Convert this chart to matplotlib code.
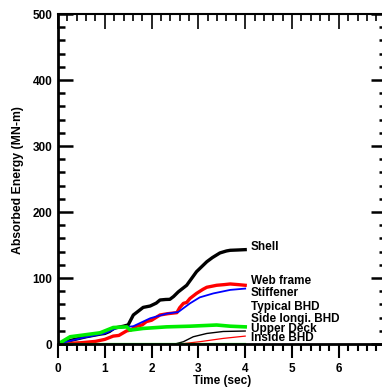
import numpy as np
import matplotlib.pyplot as plt
from matplotlib.ticker import MultipleLocator

plt.rcParams['font.family'] = ['Liberation Sans', 'DejaVu Sans']
plt.rcParams['font.weight'] = 'bold'

# curves (time in sec, energy in MN-m)
shell_t = [0, 0.3, 0.6, 0.9, 1.0, 1.1, 1.2, 1.4, 1.5, 1.61, 1.72, 1.82, 1.97, 2.1, 2.18, 2.3, 2.39, 2.47, 2.57, 2.75, 2.96, 3.18, 3.3, 3.46, 3.6, 3.68, 3.85, 4.0]
shell_e = [0, 6, 11, 15, 16, 19, 24, 27, 29, 44, 50, 55.5, 57.6, 62, 66.7, 67.5, 67.7, 72, 79, 89, 109.6, 124.7, 131, 138, 141, 142, 142.5, 143]

web_t = [0, 0.5, 0.8, 1.0, 1.18, 1.3, 1.47, 1.55, 1.68, 1.8, 1.89, 2.0, 2.18, 2.35, 2.54, 2.6, 2.68, 2.75, 2.82, 2.96, 3.1, 3.18, 3.39, 3.55, 3.68, 3.85, 4.0]
web_e = [0, 2, 4, 7, 12, 13, 20, 21, 27, 29, 34, 36, 44, 46, 47.5, 55, 61.6, 63, 69, 76.7, 83, 86, 89, 90, 91, 90, 89]

stiff_t = [0, 0.5, 1.0, 1.25, 1.61, 1.97, 2.32, 2.57, 2.82, 3.03, 3.32, 3.68, 4.0]
stiff_e = [0, 9, 16, 24, 27, 39, 46, 48.5, 61.6, 70.7, 76.7, 82, 84]

typ_t = [0, 0.26, 0.54, 0.9, 1.18, 1.47, 1.54, 1.82, 2.32, 2.82, 3.39, 3.68, 4.0]
typ_e = [0, 11, 13.6, 17, 25, 26, 21, 23.6, 26, 27, 28.8, 27, 26]

side_t = [0, 2.5, 2.68, 2.89, 3.18, 3.53, 4.0]
side_e = [0, 0, 3.5, 11, 16, 19, 19.7]

inside_t = [0, 2.6, 3.03, 3.53, 4.0]
inside_e = [0, 0, 3.5, 8.5, 12]

deck_t = [0, 4.0]
deck_e = [0, 0]

labels = ['Shell', 'Web frame', 'Stiffener', 'Typical BHD', 'Side longi. BHD', 'Upper Deck', 'Inside BHD']
label_y = [147, 96, 78, 56, 38, 23, 9]

fig = plt.figure(figsize=(3.82, 3.92), dpi=100)
ax = fig.add_axes([0.1518, 0.1224, 0.8576, 0.8418])

ax.plot(shell_t, shell_e, color='black', lw=2.4)
ax.plot(web_t, web_e, color='red', lw=2.4)
ax.plot(stiff_t, stiff_e, color='blue', lw=1.3)
ax.plot(typ_t, typ_e, color='#00ee00', lw=2.6)
ax.plot(side_t, side_e, color='black', lw=1.0)
ax.plot(inside_t, inside_e, color='red', lw=0.9)
ax.plot(deck_t, deck_e, color='#00dd00', lw=1.6)

for lab, yy in zip(labels, label_y):
    ax.text(4.12, yy, lab, fontsize=8.5, fontweight='bold', va='center', ha='left')

ax.set_xlim(0, 7)
ax.set_ylim(0, 500)
ax.xaxis.set_major_locator(MultipleLocator(1))
ax.xaxis.set_minor_locator(MultipleLocator(0.2))
ax.yaxis.set_major_locator(MultipleLocator(100))
ax.yaxis.set_minor_locator(MultipleLocator(20))
ax.set_xticks([0, 1, 2, 3, 4, 5, 6])

ax.tick_params(axis='x', which='both', direction='out', top=False, labelsize=8.5, width=1.5, pad=4)
ax.tick_params(axis='x', which='major', length=10)
ax.tick_params(axis='x', which='minor', length=5)
ax.tick_params(axis='y', which='both', direction='in', right=True, labelsize=8.5, width=1.8, pad=4)
ax.tick_params(axis='y', which='major', length=11)
ax.tick_params(axis='y', which='minor', length=5)

# top ticks drawn inward on a secondary axis
top = ax.secondary_xaxis('top')
top.xaxis.set_major_locator(MultipleLocator(1))
top.xaxis.set_minor_locator(MultipleLocator(0.2))
top.tick_params(which='both', direction='in', labeltop=False, width=1.2)
top.tick_params(which='major', length=11)
top.tick_params(which='minor', length=5)
top.spines['top'].set_visible(False)

ax.spines['left'].set_linewidth(2)
ax.spines['bottom'].set_linewidth(2)
ax.spines['top'].set_linewidth(1.5)
ax.spines['right'].set_linewidth(1.5)

ax.set_xlabel('Time (sec)', fontsize=8.5, fontweight='bold', labelpad=0)
fig.text(18 / 382, 1 - 180 / 392, 'Absorbed Energy (MN-m)', rotation=90, fontsize=8.8,
         fontweight='bold', ha='center', va='center')

fig.savefig('out.png', dpi=100)
